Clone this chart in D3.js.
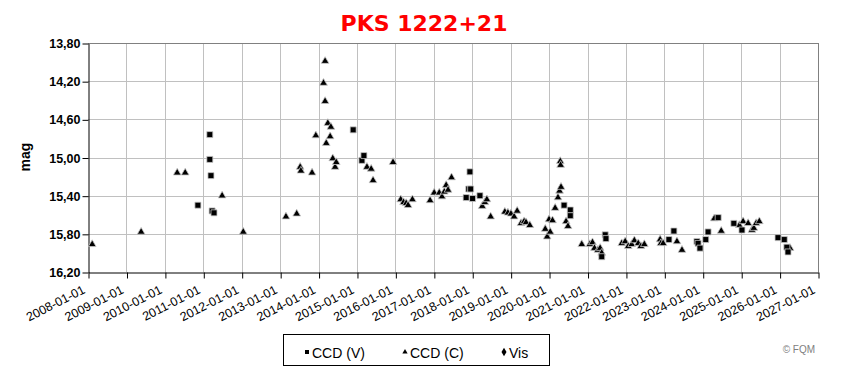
<!DOCTYPE html>
<html lang="en">
<head>
<meta charset="utf-8">
<title>PKS 1222+21</title>
<script src="https://cdn.jsdelivr.net/npm/d3@7"></script>
<style>
  body { margin: 0; background: #fff; }
  svg { display: block; }
</style>
</head>
<body>
<script>
// light curve data (date, magnitude)
var ccdV_dates = ["2010-11-11","2011-03-04","2011-03-04","2011-03-15","2011-03-26","2011-04-13",
  "2014-11-26","2015-02-17","2015-03-08",
  "2017-12-10","2017-11-29","2017-12-17","2017-11-04","2018-01-04","2018-03-15",
  "2020-05-23","2020-07-21","2020-07-21",
  "2021-05-16","2021-06-18","2021-06-25",
  "2023-02-14","2023-04-02","2023-11-07","2023-11-18","2023-12-06",
  "2024-01-30","2024-02-21","2024-05-27","2024-10-23","2025-01-08",
  "2025-12-17","2026-02-14","2026-03-11","2026-03-22"];
var ccdV_mags = [15.50,14.76,15.02,15.19,15.56,15.58,
  14.71,15.03,14.98,
  15.15,15.33,15.33,15.42,15.43,15.40,
  15.50,15.55,15.61,
  16.04,15.81,15.85,
  15.86,15.77,15.88,15.90,15.95,
  15.86,15.78,15.63,15.69,15.76,
  15.84,15.86,15.94,15.99];

var ccdC_dates = ["2008-02-10","2009-05-20","2010-04-28","2010-07-13","2011-06-29","2012-01-16",
  "2013-02-25","2013-06-07","2013-07-10","2013-07-17","2013-10-31","2013-12-06",
  "2014-02-17","2014-03-04","2014-03-04","2014-03-15","2014-03-30","2014-04-21","2014-04-28",
  "2014-05-16","2014-06-07","2014-06-18",
  "2015-04-06","2015-05-16","2015-06-03","2015-12-10",
  "2016-02-21","2016-03-19","2016-04-13","2016-05-01","2016-06-11","2016-11-26",
  "2017-01-04","2017-02-21","2017-03-19","2017-04-10","2017-04-28","2017-05-16","2017-06-18",
  "2018-04-06","2018-05-01","2018-05-20","2018-06-25","2018-11-07","2018-12-06",
  "2019-01-04","2019-02-03","2019-03-04","2019-04-10","2019-05-09","2019-05-27","2019-07-02",
  "2019-11-26","2019-12-14","2020-01-12","2020-01-01","2020-02-03","2020-02-28","2020-03-26",
  "2020-04-10","2020-04-24","2020-04-17","2020-04-20","2020-06-11","2020-06-29",
  "2020-11-07","2021-01-23","2021-02-17","2021-03-08","2021-04-10","2021-05-01","2021-05-16",
  "2021-11-22","2021-12-25","2022-01-23","2022-02-25","2022-03-22","2022-04-28","2022-05-23","2022-06-25",
  "2022-11-22","2022-11-29","2022-12-21","2023-05-01","2023-06-18",
  "2024-04-20","2024-06-25","2024-12-14",
  "2025-01-19","2025-03-08","2025-04-13","2025-05-01","2025-05-23","2025-06-22",
  "2026-04-10"];
var ccdC_mags = [15.91,15.78,15.16,15.16,15.40,15.78,
  15.62,15.59,15.10,15.14,15.16,14.77,
  14.22,13.99,14.41,14.85,14.64,14.78,14.68,
  15.01,15.10,15.05,
  15.10,15.12,15.24,15.05,
  15.44,15.47,15.48,15.50,15.44,15.45,
  15.37,15.37,15.41,15.36,15.29,15.34,15.21,
  15.51,15.47,15.44,15.62,15.57,15.58,
  15.59,15.62,15.56,15.69,15.67,15.68,15.71,
  15.75,15.83,15.78,15.65,15.66,15.53,15.42,
  15.35,15.31,15.04,15.08,15.67,15.72,
  15.91,15.91,15.89,15.95,15.97,15.95,16.00,
  15.90,15.88,15.93,15.91,15.87,15.90,15.93,15.91,
  15.86,15.90,15.90,15.88,15.97,
  15.64,15.77,15.71,
  15.67,15.69,15.76,15.74,15.69,15.67,
  15.95];

var vis_dates = [];
var vis_mags = [];

var yTicks = [13.8, 14.2, 14.6, 15.0, 15.4, 15.8, 16.2];
var xYears = d3.range(2008, 2028);
var legendNames = ["CCD (V)", "CCD (C)", "Vis"];

var width = 846, height = 373;
var plotL = 88, plotR = 818, plotT = 43, plotB = 272;

var parse = d3.timeParse("%Y-%m-%d");
function zipSeries(dates, mags) {
  return dates.map(function(d, i) { return {date: parse(d), mag: mags[i]}; });
}
var seriesV = zipSeries(ccdV_dates, ccdV_mags);
var seriesC = zipSeries(ccdC_dates, ccdC_mags);
var seriesVis = zipSeries(vis_dates, vis_mags);

var svg = d3.select("body").append("svg")
  .attr("width", width).attr("height", height)
  .style("font-family", "'Liberation Sans', Arial, sans-serif");

svg.append("rect").attr("width", width).attr("height", height).attr("fill", "#fff");

var xScale = d3.scaleTime()
  .domain([new Date(2008, 0, 1), new Date(2027, 0, 1)])
  .range([plotL, plotR]);
var yScale = d3.scaleLinear()
  .domain([13.8, 16.2])
  .range([plotT, plotB]);

var tickDates = xYears.map(function(y) { return new Date(y, 0, 1); });

// grid
var grid = svg.append("g").attr("stroke", "#c0c0c0").attr("stroke-width", 1);
grid.selectAll(".vg").data(tickDates.slice(1)).enter().append("line")
  .attr("x1", function(d) { return Math.round(xScale(d)) + 0.5; })
  .attr("x2", function(d) { return Math.round(xScale(d)) + 0.5; })
  .attr("y1", plotT).attr("y2", plotB);
grid.selectAll(".hg").data(yTicks.slice(0, -1)).enter().append("line")
  .attr("x1", plotL).attr("x2", plotR)
  .attr("y1", function(d) { return Math.round(yScale(d)) + 0.5; })
  .attr("y2", function(d) { return Math.round(yScale(d)) + 0.5; });
svg.append("line").attr("x1", plotL).attr("x2", plotR + 0.5)
  .attr("y1", plotT + 0.5).attr("y2", plotT + 0.5).attr("stroke", "#808080");
svg.append("line").attr("x1", plotR + 0.5).attr("x2", plotR + 0.5)
  .attr("y1", plotT).attr("y2", plotB).attr("stroke", "#808080");

// axes
var yAxis = d3.axisLeft(yScale).tickValues(yTicks).tickSize(6).tickSizeOuter(0)
  .tickFormat(function(d) { return d3.format(".2f")(d).replace(".", ","); });
var gy = svg.append("g").attr("transform", "translate(" + (plotL + 0.5) + ",0.5)").call(yAxis);
gy.selectAll("text").attr("font-size", "12.5px").attr("font-weight", "bold")
  .attr("fill", "#000").attr("x", -8).attr("font-family", "'Liberation Sans', Arial, sans-serif");

var xAxis = d3.axisBottom(xScale).tickValues(tickDates).tickSize(6).tickSizeOuter(0)
  .tickFormat(d3.timeFormat("%Y-%m-%d"));
var gx = svg.append("g").attr("transform", "translate(0.5," + (plotB + 0.5) + ")").call(xAxis);
gx.selectAll("text")
  .attr("font-size", "12.5px").attr("fill", "#000")
  .attr("font-family", "'Liberation Sans', Arial, sans-serif")
  .attr("text-anchor", "end")
  .attr("dy", null).attr("y", 0)
  .attr("transform", "translate(-3,20) rotate(-27)");
svg.selectAll(".domain").attr("stroke", "#000");
svg.selectAll(".tick line").attr("stroke", "#000");

// y label
svg.append("text")
  .attr("transform", "translate(30,157) rotate(-90)")
  .attr("text-anchor", "middle")
  .attr("font-size", "14px").attr("font-weight", "bold")
  .text("mag");

// title
svg.append("text")
  .attr("x", 424).attr("y", 31)
  .attr("text-anchor", "middle")
  .attr("font-family", "'DejaVu Sans', Verdana, sans-serif")
  .attr("font-size", "22px").attr("font-weight", "bold")
  .attr("fill", "#ff0000")
  .text("PKS 1222+21");

// markers
var sq = d3.symbol().type(d3.symbolSquare).size(36);
var tri = d3.symbol().type(d3.symbolTriangle).size(26);
var dia = d3.symbol().type(d3.symbolDiamond).size(30);

var marks = svg.append("g");
marks.selectAll(".c").data(seriesC).enter().append("path")
  .attr("d", tri)
  .attr("transform", function(d) { return "translate(" + xScale(d.date) + "," + yScale(d.mag) + ")"; })
  .attr("fill", "#000").attr("stroke", "#c8c8c8").attr("stroke-width", 0.8);
marks.selectAll(".v").data(seriesV).enter().append("path")
  .attr("d", sq)
  .attr("transform", function(d) { return "translate(" + xScale(d.date) + "," + yScale(d.mag) + ")"; })
  .attr("fill", "#000").attr("stroke", "#c8c8c8").attr("stroke-width", 0.8);
marks.selectAll(".vis").data(seriesVis).enter().append("path")
  .attr("d", dia)
  .attr("transform", function(d) { return "translate(" + xScale(d.date) + "," + yScale(d.mag) + ")"; })
  .attr("fill", "#000");

// legend
var legend = svg.append("g");
legend.append("rect").attr("x", 283.5).attr("y", 334.5).attr("width", 266).attr("height", 31)
  .attr("fill", "#fff").attr("stroke", "#000");
var legSymbols = [d3.symbol().type(d3.symbolSquare).size(16),
                  d3.symbol().type(d3.symbolTriangle).size(12),
                  d3.symbol().type(d3.symbolDiamond).size(22)];
var legX = [307, 405, 504];
legendNames.forEach(function(name, i) {
  legend.append("path").attr("d", legSymbols[i])
    .attr("transform", "translate(" + legX[i] + ",352)").attr("fill", "#000");
  legend.append("text").attr("x", legX[i] + 5).attr("y", 357.5)
    .attr("font-size", "14px").attr("fill", "#000").text(name);
});

svg.append("text").attr("x", 815).attr("y", 353).attr("text-anchor", "end")
  .attr("font-size", "10px").attr("fill", "#808080").text("© FQM");
</script>
</body>
</html>
